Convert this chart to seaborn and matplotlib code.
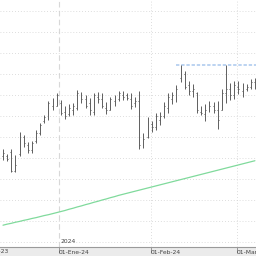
import matplotlib
matplotlib.use("Agg")
import matplotlib.pyplot as plt
import matplotlib.transforms as mtransforms
import seaborn as sns
import pandas as pd
import numpy as np

# ---- data (trading-day index based) ----
high = [144.3, 141.9, 144.3, 141.4, 152.4, 151.0, 147.6, 148.1, 153.3, 156.7,
        160.5, 167.1, 168.6, 171.0, 167.6, 164.8, 165.7, 166.2, 172.4, 171.4,
        170.0, 168.6, 171.0, 171.4, 171.0, 166.7, 169.0, 170.0, 171.9, 171.9,
        171.0, 171.0, 169.0, 171.9, 151.9, 159.5, 157.6, 161.4, 161.9, 166.7,
        171.0, 171.4, 174.8, 184.3, 181.4, 176.7, 175.2, 171.4, 164.8, 165.7,
        167.1, 166.7, 167.1, 172.9, 184.3, 175.7, 176.7, 176.7, 175.7, 175.2,
        177.6, 178.1]
low = [139.0, 138.6, 133.3, 133.3, 141.0, 145.2, 142.4, 142.4, 147.1, 151.0,
       156.7, 158.1, 162.9, 164.8, 160.5, 158.6, 160.0, 160.5, 162.9, 166.2,
       163.8, 160.5, 160.5, 166.2, 163.8, 161.0, 162.9, 164.8, 167.1, 167.6,
       167.6, 163.3, 164.3, 144.3, 144.8, 149.5, 152.4, 153.3, 155.7, 159.0,
       161.4, 165.7, 166.7, 176.2, 172.9, 170.0, 169.0, 161.4, 160.5, 157.6,
       161.9, 161.4, 153.8, 162.9, 166.2, 167.6, 168.1, 170.5, 169.0, 171.9,
       172.9, 172.9]
open_ = [141.0, 141.0, 143.0, 134.0, 142.0, 150.0, 146.0, 144.0, 148.0, 152.0,
         157.5, 159.0, 165.0, 165.0, 166.0, 162.0, 161.0, 163.0, 164.0, 170.0,
         168.0, 166.0, 162.0, 169.0, 168.0, 164.0, 163.0, 167.0, 168.0, 170.0,
         170.0, 168.0, 166.0, 167.0, 146.0, 150.0, 156.0, 155.0, 158.0, 160.0,
         164.0, 168.0, 169.0, 178.0, 180.0, 175.0, 172.0, 171.0, 162.0, 161.0,
         163.0, 165.0, 163.0, 163.0, 171.0, 173.0, 170.0, 174.0, 172.0, 173.0,
         174.0, 176.0]
close = [142.5, 139.5, 134.0, 136.5, 151.0, 147.0, 144.0, 147.0, 152.0, 155.5,
         159.5, 166.0, 164.0, 170.0, 161.5, 160.0, 164.0, 165.0, 171.0, 168.0,
         165.0, 163.0, 170.0, 168.0, 165.0, 163.0, 168.0, 166.0, 171.0, 169.0,
         168.5, 165.0, 167.0, 146.0, 149.0, 157.0, 155.0, 160.0, 160.0, 165.0,
         169.0, 170.0, 173.0, 182.0, 174.0, 172.0, 173.0, 163.0, 161.5, 163.0,
         165.0, 163.0, 158.0, 171.0, 173.0, 170.0, 175.0, 173.0, 174.0, 174.0,
         176.0, 174.0]
ma = [108.0, 108.5, 108.9, 109.4, 109.8, 110.3, 110.7, 111.2, 111.6, 112.1,
      112.6, 113.0, 113.5, 114.0, 114.5,
      115.0, 115.6, 116.1, 116.7, 117.2, 117.8, 118.3, 118.9, 119.4, 120.0,
      120.5, 121.1, 121.6, 122.2, 122.7, 123.2,
      123.7, 124.2, 124.7, 125.2, 125.7, 126.2, 126.7, 127.2, 127.7, 128.2,
      128.7, 129.2, 129.7, 130.2, 130.7, 131.2, 131.7, 132.2, 132.7, 133.2,
      133.7, 134.2, 134.7, 135.2, 135.7, 136.2, 136.7, 137.2, 137.7, 138.2,
      138.7]
resistance = 184.3
resistance_start = 41.8

month_pos = [13.56, 35.84, 56.66]
month_labels = ["01-Ene-24", "01-Feb-24", "01-Mar-24"]
prev_label = "01-Dic-23"
prev_pos = -5.6
year_label = "2024"

df = pd.DataFrame({"idx": np.arange(len(high)), "high": high, "low": low,
                   "open": open_, "close": close, "ma": ma})

sns.set_theme(style="white")
plt.rcParams["font.family"] = ["DejaVu Sans"]

fig = plt.figure(figsize=(2.56, 2.56), dpi=100, facecolor="#ebebeb")
ax = fig.add_axes([0, 9 / 256, 1, 247 / 256])
ax.set_facecolor("white")

# grid
ax.set_yticks(range(100, 211, 10))
ax.yaxis.grid(True, linestyle=(0, (1, 2.5)), color="#d2d2d2", linewidth=0.6)
ax.xaxis.grid(False)
ax.axvline(month_pos[0], linestyle=(0, (5, 3)), color="#d8d8d8", linewidth=0.8, zorder=0)
for p in month_pos[1:]:
    ax.axvline(p, linestyle=(0, (1, 2.5)), color="#d2d2d2", linewidth=0.6, zorder=0)

# moving average
sns.lineplot(data=df, x="idx", y="ma", ax=ax, color="#80da9c", linewidth=0.9)

# OHLC bars
bar_color = "#5e5e5e"
ax.vlines(df["idx"], df["low"], df["high"], color=bar_color, linewidth=0.7, zorder=3)
ax.hlines(df["open"], df["idx"] - 0.22, df["idx"], color=bar_color, linewidth=0.7, zorder=3)
ax.hlines(df["close"], df["idx"], df["idx"] + 0.22, color=bar_color, linewidth=0.7, zorder=3)

# resistance line
ax.plot([resistance_start, 62], [resistance, resistance], color="#a9c8ee",
        linewidth=1.1, linestyle=(0, (2.2, 1.2)), zorder=2)

ax.set_xlim(-0.726, 61.26)
ax.set_ylim(97.62, 215.24)
ax.set_xlabel("")
ax.set_ylabel("")

for s in ["top", "left", "right"]:
    ax.spines[s].set_visible(False)
ax.spines["bottom"].set_color("#9a9a9a")
ax.spines["bottom"].set_linewidth(0.8)

ax.tick_params(axis="y", left=False, labelleft=False)
ax.set_xticks(month_pos)
ax.set_xticklabels(month_labels, ha="left", fontsize=4.3, color="#444444")
ax.tick_params(axis="x", which="major", direction="out", length=4, width=0.6,
               color="#888888", pad=-2.2, bottom=True)
ax.set_xticks([month_pos[0]], minor=True)
ax.tick_params(axis="x", which="minor", direction="in", length=5, width=0.6,
               color="#888888")

trans = mtransforms.blended_transform_factory(ax.transData, ax.transAxes)
offset = mtransforms.ScaledTranslation(1 / 100, 0, fig.dpi_scale_trans)
ax.text(month_pos[0], 0.012, year_label, transform=trans + offset, fontsize=4.3,
        color="#444444", ha="left", va="bottom")
ax.text(prev_pos, -0.0185, prev_label, transform=trans, fontsize=4.3,
        color="#444444", ha="left", va="center", clip_on=False)

fig.savefig("out.png", dpi=100, facecolor=fig.get_facecolor())
